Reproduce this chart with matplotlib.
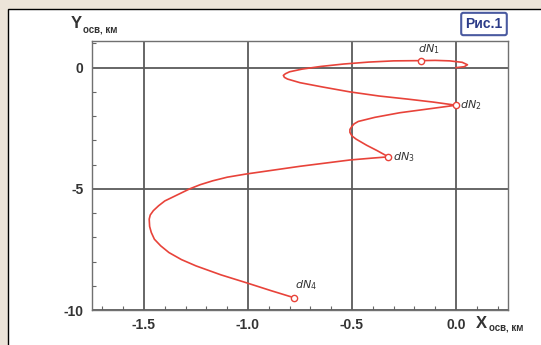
import matplotlib.pyplot as plt
from matplotlib.patches import Rectangle
from matplotlib.ticker import MultipleLocator

plt.rcParams['axes.unicode_minus'] = False
plt.rcParams['font.family'] = ['Liberation Sans', 'DejaVu Sans']

# trajectory (km)
x_traj = [0.00, 0.04, 0.055, 0.03, -0.03, -0.10, -0.17, -0.30, -0.42, -0.54,
          -0.65, -0.74, -0.80, -0.82, -0.83, -0.825, -0.81, -0.75, -0.64, -0.51,
          -0.37, -0.23, -0.11, 0.00, -0.13, -0.27, -0.39, -0.47, -0.49, -0.50,
          -0.51, -0.51, -0.50, -0.48, -0.43, -0.38, -0.325, -0.40, -0.51, -0.75,
          -1.01, -1.10, -1.17, -1.23, -1.28, -1.40, -1.43, -1.455, -1.47, -1.475,
          -1.473, -1.465, -1.45, -1.42, -1.38, -1.32, -1.25, -1.13, -1.01, -0.89,
          -0.78]
y_traj = [0.00, 0.04, 0.12, 0.22, 0.28, 0.30, 0.29, 0.28, 0.23, 0.15,
          0.05, -0.06, -0.17, -0.25, -0.32, -0.40, -0.47, -0.62, -0.80, -1.00,
          -1.17, -1.30, -1.42, -1.55, -1.70, -1.86, -2.05, -2.22, -2.32, -2.42,
          -2.55, -2.67, -2.82, -2.95, -3.20, -3.42, -3.68, -3.73, -3.81, -4.07,
          -4.39, -4.52, -4.67, -4.83, -5.00, -5.50, -5.70, -5.90, -6.08, -6.25,
          -6.55, -6.80, -7.08, -7.35, -7.63, -7.92, -8.18, -8.55, -8.87, -9.20,
          -9.49]

# marked points dN1..dN4
pt_names = [r'$dN_1$', r'$dN_2$', r'$dN_3$', r'$dN_4$']
pt_x = [-0.17, 0.00, -0.325, -0.78]
pt_y = [0.29, -1.55, -3.68, -9.49]

fig = plt.figure(figsize=(5.41, 3.45), dpi=100)
fig.patch.set_facecolor('#ece4d9')
# white panel with black border on left/top
fig.patches.append(Rectangle((8 / 541, -0.1), 1.2, 1.1 - 9 / 345,
                             transform=fig.transFigure, facecolor='white',
                             edgecolor='black', linewidth=1.0, zorder=-5))

ax = fig.add_axes([92 / 541, 1 - 310 / 345, 416 / 541, 269 / 345])
ax.set_zorder(2)
ax.set_xlim(-1.75, 0.25)
ax.set_ylim(-10, 1.1)

ax.xaxis.set_minor_locator(MultipleLocator(0.1))
ax.yaxis.set_minor_locator(MultipleLocator(1))
ax.set_xticks([-1.5, -1.0, -0.5, 0.0])
ax.set_xticklabels(['-1.5', '-1.0', '-0.5', '0.0'])
ax.set_yticks([0, -5, -10])
ax.set_yticklabels(['0', '-5', '-10'])

ax.grid(True, which='major', color='#5a5a5a', linewidth=1.3)
ax.tick_params(which='both', direction='in', colors='#666666', labelcolor='#333333',
               labelsize=10)
ax.tick_params(which='major', length=0, pad=6)
ax.tick_params(which='minor', length=3, width=0.8)
for lab in ax.get_xticklabels() + ax.get_yticklabels():
    lab.set_fontweight('bold')
for s in ax.spines.values():
    s.set_color('#707070')
    s.set_linewidth(1.0)

ax.plot(x_traj, y_traj, color='#e8433a', linewidth=1.2, zorder=3)
ax.plot(pt_x, pt_y, 'o', markersize=4.5, markerfacecolor='white',
        markeredgecolor='#e8433a', markeredgewidth=1.0, zorder=4)

offsets = [(-2, 3), (3, 0), (3, 0), (1, 4)]
aligns = [('left', 'bottom'), ('left', 'center'), ('left', 'center'), ('left', 'bottom')]
for name, x, y, off, al in zip(pt_names, pt_x, pt_y, offsets, aligns):
    ax.annotate(name, (x, y), xytext=off, textcoords='offset points',
                ha=al[0], va=al[1], fontsize=8, color='#333333', zorder=5)

# axis titles
fig.text(71 / 541, 1 - 24 / 345, 'Y', fontsize=12, fontweight='bold',
         color='#333333', ha='left', va='center')
fig.text(83 / 541, 1 - 29 / 345, 'осв, км', fontsize=7, fontweight='bold',
         color='#333333', ha='left', va='center')
fig.text(476 / 541, 1 - 323 / 345, 'X', fontsize=12, fontweight='bold',
         color='#333333', ha='left', va='center')
fig.text(489 / 541, 1 - 328 / 345, 'осв, км', fontsize=7, fontweight='bold',
         color='#333333', ha='left', va='center')

# figure tag
fig.text(484 / 541, 1 - 24 / 345, 'Рис.1', fontsize=10, fontweight='bold',
         color='#2b3b88', ha='center', va='center',
         bbox=dict(boxstyle='round,pad=0.3,rounding_size=0.15', facecolor='white',
                   edgecolor='#4a5aa0', linewidth=1.5))

fig.savefig('out.png', dpi=100)
